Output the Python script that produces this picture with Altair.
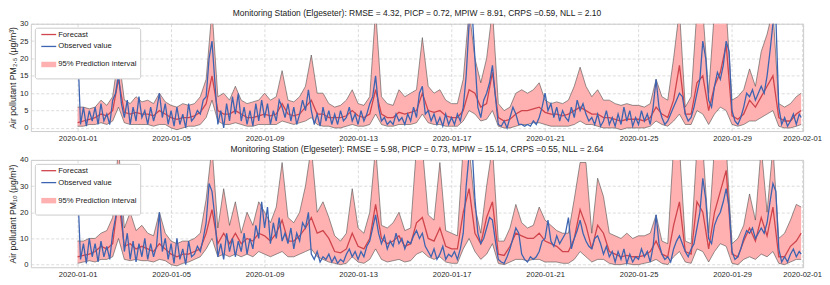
import altair as alt
import pandas as pd

FONT = "Liberation Sans"
RED = "#D0454C"
BLUE = "#3D64B1"
PINK = "#FFB1B1"
EDGE = "#4d4d4d"

SERIES = ["Forecast", "Observed value", "95% Prediction interval"]
TITLE_PM25 = "Monitoring Station (Elgeseter): RMSE = 4.32, PICP = 0.72, MPIW = 8.91, CRPS =0.59, NLL = 2.10"
TITLE_PM10 = "Monitoring Station (Elgeseter): RMSE = 5.98, PICP = 0.73, MPIW = 15.14, CRPS =0.55, NLL = 2.64"
YTITLE_PM25 = "Air pollutant PM₂.₅ (μg/m³)"
YTITLE_PM10 = "Air pollutant PM₁₀ (μg/m³)"
XTICKS = ["2020-01-01", "2020-01-05", "2020-01-09", "2020-01-13", "2020-01-17",
          "2020-01-21", "2020-01-25", "2020-01-29", "2020-02-01"]
YTICKS_PM25 = [0, 5, 10, 15, 20, 25, 30]
YTICKS_PM10 = [0, 10, 20, 30, 40]

# ---- PM2.5, 6-hourly (00, 06, 12, 18 per day, Jan 1 .. Jan 31) + Jan 31 23:00
PM25_UPPER = [
    6, 6, 5.5, 6,  8, 6.5, 9, 21,  8, 7, 9, 7.5,  8, 7, 10, 7.5,  6.5, 6, 7, 6.5,
    7, 9, 14, 34,  9, 10, 8, 12,  8, 7, 7.5, 8,  10, 8, 9, 16.5,  8, 7.5, 9, 12,
    21, 10, 10, 7,  6, 6.5, 8, 11,  7, 6.5, 9, 34,  9, 7, 6.5, 11,  9, 10, 11, 26,
    12, 10, 11, 8,  7, 7, 14, 34,  20, 13, 20, 34,  7, 5, 6, 10,  11, 10, 11, 13,
    8, 7, 7.5, 7,  8, 12, 17.5, 12,  9, 11, 8, 8,  7, 6.5, 7, 6.5,  6.5, 6, 7, 14,
    9, 8, 20, 34,  6, 9, 34, 34,  10, 34, 34, 34,  8, 9, 11, 17,  12, 22, 27, 34,
    7, 6, 7, 9,  10]
PM25_LOWER = [
    0.5, 0.5, 1, 1,  1.5, 1, 2, 6,  1.5, 1, 1, 1,  1, 0.5, 1, 1,  0, -0.5, 0, 0.5,
    0.5, 1, 3, 8,  2, 1, 1, 1.5,  1, 0.5, 0.5, 1,  1, 1, 1, 2,  1.5, 1, 1.5, 2,
    3, 1, 0.5, 0.5,  0, 0, 0.5, 1,  0.5, 0.5, 1, 4,  1, 0.5, 0.5, 1,  1, 1, 1.5, 4,
    1.5, 1, 1, 0.5,  0.5, 0.5, 2, 5,  4, 2, 2.5, 5,  0.5, 0, 0, 0.5,  1, 1, 1.5, 1.5,
    1, 0.5, 0.5, 0.5,  0.5, 1, 2, 1,  1, 0.5, 0, 0,  0, -0.5, 0, 0,  0, 0, 0.5, 2,
    1, 0.5, 2, 4,  1, 1, 5, 4,  1, 4, 6, 5,  1, 0.5, 1, 2,  2, 3, 4, 5,
    0.5, 0, 0, 0.5,  1]
PM25_FCST = [
    1.5, 2, 2.5, 3,  4, 3.5, 5, 14,  4.5, 4, 4.5, 4,  4, 3.5, 5, 4,  3, 2.5, 3, 3,
    3.5, 4.5, 7, 15,  5, 4, 4, 5,  4, 3, 3, 3.5,  4, 3.5, 4, 7,  4, 3.5, 4, 6,
    8, 4, 4, 3,  3, 3, 3.5, 5,  3.5, 3, 4, 11,  4, 3, 3, 4.5,  4, 4.5, 5, 10,
    5, 4.5, 5, 3.5,  3, 3, 5, 11,  10, 6, 7, 16,  3, 2, 2.5, 4,  5, 5, 5.5, 6,
    4.5, 4, 4, 3.5,  4, 5, 6, 5,  4, 4, 3, 3,  2.5, 2, 2.5, 2.5,  2.5, 2, 3, 6,
    4, 3, 8, 18,  4, 4, 13, 15,  5, 12, 16, 24,  3.5, 2.5, 4, 8,  6, 9, 12, 15,
    3, 2, 2, 4,  5]
# ---- PM2.5 observed, 3-hourly (8 per day) + Jan 31 23:00
PM25_OBS = [
    24, 1, 6, 0.5, 5, 2, 6, 1,      7, 2, 4, 1, 8, 10, 15.5, 7,
    3, 8, 1, 6, 2, 9, 3, 5,         1, 6, 2, 5, 10, 3, 7, 1,
    5, 0.5, 6, 1, 4, 0, 7, 2,       3, 5, 4, 8, 9, 20, 25, 13,
    1, 5, 0, 7, 2, 9, 4, 10,        2, 6, 1, 5, 0.5, 7, 2, 8,
    3, 7, 1, 5, 2, 8, 6, 3,         7, 2, 6, 1, 4, 8, 5, 11,
    5, 1, 4, 0.5, 6, 2, 5, 1,       4, 1, 5, 2, 3, 6, 2, 4,
    1, 5, 2, 4, 7, 9, 15, 6,        2, 3, 1, 2, 1, 4, 2, 3,
    1, 4, 2, 6, 3, 10, 12, 4,       5, 2, 4, 1, 3, 0.5, 4, 1,
    3, 1, 4, 2, 6, 15, 30, 34,      20, 6, 3, 8, 10, 13, 18, 9,
    1, 0.5, 2, 0, 3, 6, 4, 1,       1, 0.5, 1, 0.5, 2, 1, 3, 6,
    10, 5, 7, 3, 6, 2, 5, 3,        2, 6, 3, 8, 5, 7, 4, 2,
    3, 1, 4, 0.5, 2, 5, 1, 3,       0.5, 4, 1, 6, 2, 5, 0.5, 3,
    1, 5, 2, 4, 1, 6, 14, 6,        3, 1, 2, 4, 6, 8, 10, 9,
    4, 2, 3, 6, 10, 14, 25, 20,     8, 6, 12, 16, 14, 18, 25, 22,
    5, 2, 1, 3, 6, 10, 9, 11,       8, 10, 12, 10, 15, 22, 30, 32,
    6, 1, 3, 0.5, 2, 4, 1, 4,       3]

# ---- PM10, 6-hourly + Jan 31 23:00
PM10_UPPER = [
    9, 9, 10, 10,  12, 13, 18, 45,  14, 20, 13, 15,  12, 11, 20, 12,  9, 8, 9, 9,
    10, 12, 25, 45,  14, 29, 15, 24,  12, 20, 15, 24,  20, 16, 22, 39,  18, 16, 20, 30,
    45, 20, 24, 18,  11, 9, 12, 29,  14, 12, 20, 45,  15, 14, 16, 20,  13, 14, 45, 45,
    19, 17, 39, 13,  12, 11, 45, 45,  22, 12, 30, 45,  9, 9, 14, 23,  16, 14, 15, 22,
    17, 15, 13, 12,  12, 25, 39, 39,  12, 33, 26, 12,  11, 10, 12, 10,  11, 11, 12, 19,
    9, 8, 45, 45,  9, 8, 45, 45,  12, 45, 45, 45,  8, 10, 15, 27,  17, 45, 20, 45,
    10, 12, 17, 23,  22]
PM10_LOWER = [
    0.5, 1, 1.5, 1,  2, 2, 3, 10,  2, 1.5, 2, 1.5,  1.5, 1, 2, 1.5,  0, -0.5, 0.5, 1,
    2, 3, 6, 10,  3, 4, 3, 4,  3, 4, 3, 5,  4, 3, 4, 5,  3, 3, 4, 5,
    6, 3, 2, 1,  0.5, 0, 0.5, 3,  1, 0.5, 2, 6,  2, 1, 1.5, 2,  1, 1.5, 4, 5,
    3, 2, 3, 1,  0.5, 0.5, 6, 10,  5, 2, 4, 8,  0.5, 0, 1, 2,  2, 1.5, 2, 2,
    1, 1, 1, 0.5,  0.5, 2, 5, 3,  1, 2, 2, 0.5,  0, 0, 0.5, 0,  0, 0.5, 1, 2,
    0.5, 0, 3, 5,  1, 0.5, 6, 5,  1, 5, 8, 7,  0.5, 0, 2, 3,  2, 4, 3, 5,
    0.5, 0, 1, 2,  2]
PM10_FCST = [
    3, 3.5, 4, 5,  7, 6, 8, 25,  7, 8, 6, 7,  6, 5, 8, 6,  4, 3, 4, 4,
    5, 6, 12, 21,  8, 12, 8, 12,  8, 10, 9, 12,  11, 9, 12, 17,  9, 9, 11, 14,
    18, 12, 13, 10,  5, 4.5, 6, 12,  7, 6, 10, 23,  10, 8, 9, 11,  7, 8, 16, 18,
    10, 9, 14, 7,  6, 6, 20, 29,  12, 8, 18, 24,  4, 3.5, 7, 12,  11, 10, 10, 12,
    9, 8, 7, 5,  5, 10, 21, 15,  6, 15, 12, 5,  4, 3, 3.5, 3,  3, 3.5, 5, 9,
    4, 3, 15, 24,  5, 4, 24, 20,  6, 20, 28, 36,  4, 3, 9, 14,  9, 18, 11, 22,
    3, 3, 7, 9,  12]
PM10_OBS = [
    30, 2, 8, 0.5, 10, 3, 8, 1,     9, 3, 7, 2, 12, 18, 30, 20,
    5, 12, 2, 9, 1, 8, 3, 10,       2, 8, 3, 7, 20, 5, 10, 2,
    8, 0.5, 10, 2, 6, 0, 9, 3,      4, 7, 5, 10, 16, 31, 28, 18,
    3, 8, 2, 12, 5, 10, 3, 9,       5, 12, 4, 10, 6, 15, 10, 24,
    14, 22, 8, 16, 10, 18, 9, 12,   8, 14, 6, 12, 9, 16, 14, 20,
    4, 2, 5, 1, 3, 2, 4, 1,         3, 0.5, 2, 1, 4, 6, 3, 5,
    2, 5, 3, 7, 9, 14, 19, 12,      8, 11, 6, 9, 7, 12, 8, 10,
    6, 9, 8, 11, 13, 10, 12, 7,     5, 3, 6, 2, 4, 7, 2, 4,
    3, 5, 2, 6, 12, 30, 42, 45,     25, 12, 8, 10, 14, 18, 17, 9,
    2, 1, 0.5, 3, 6, 10, 14, 12,    4, 2, 1, 3, 2, 3, 5, 9,
    10, 17, 9, 7, 11, 8, 10, 12,    18, 6, 10, 13, 17, 12, 9, 7,
    6, 10, 11, 8, 4, 7, 3, 5,       1, 5, 2, 6, 0.5, 4, 1, 3,
    2, 6, 3, 5, 1, 7, 19, 8,        4, 2, 3, 1, 6, 9, 11, 8,
    5, 3, 6, 8, 14, 20, 33, 25,     10, 8, 15, 18, 20, 24, 29, 22,
    5, 2, 3, 6, 10, 13, 12, 14,     10, 12, 14, 12, 16, 24, 31, 28,
    6, 1, 3, 1, 4, 6, 3, 5,         4]

END = "2020-01-31T23:00:00"
T6 = [t.strftime("%Y-%m-%dT%H:%M:%S") for t in pd.date_range("2020-01-01", periods=124, freq="6h")] + [END]
T3 = [t.strftime("%Y-%m-%dT%H:%M:%S") for t in pd.date_range("2020-01-01", periods=248, freq="3h")] + [END]

for arr in (PM25_UPPER, PM25_LOWER, PM25_FCST, PM10_UPPER, PM10_LOWER, PM10_FCST):
    assert len(arr) == len(T6), len(arr)
for arr in (PM25_OBS, PM10_OBS):
    assert len(arr) == len(T3), len(arr)


def dt(s):
    y, m, d = (int(p) for p in s.split("-"))
    return alt.DateTime(year=y, month=m, date=d)


XSCALE = alt.Scale(domain=[alt.DateTime(year=2019, month=12, date=30),
                           alt.DateTime(year=2020, month=2, date=1, hours=1)])
XAXIS = alt.Axis(title=None, values=[dt(s) for s in XTICKS], format="%Y-%m-%d",
                 labelAngle=0, labelFlush=False, labelOverlap=False)

LEGEND = alt.Legend(
    title=None, orient="top-left", offset=4, padding=3, rowPadding=3,
    strokeColor="#cccccc", fillColor="white", cornerRadius=2,
    labelFont=FONT, labelFontSize=7.7, labelColor="#1a1a1a", labelOffset=4.5,
    symbolType="M-3.75,0H3.75", symbolSize=16, symbolOffset=6,
)
CSCALE = alt.Scale(domain=SERIES, range=[RED, BLUE, PINK])
WSCALE = alt.Scale(type="ordinal", domain=SERIES, range=[1.3, 1.3, 5.5])


def panel(title, ytitle, yticks, ydomain, upper, lower, fcst, obs):
    band = pd.DataFrame({"t": T6, "upper": upper, "lower": lower})
    fc = pd.DataFrame({"t": T6, "v": fcst, "series": SERIES[0]})
    ob = pd.DataFrame({"t": T3, "v": obs, "series": SERIES[1]})
    yscale = alt.Scale(domain=ydomain, nice=False, zero=False)
    yaxis = alt.Axis(title=ytitle, values=yticks)
    x = alt.X("t:T", scale=XSCALE, axis=XAXIS)
    color = alt.Color("series:N", scale=CSCALE, legend=LEGEND)
    width = alt.StrokeWidth("series:N", scale=WSCALE, legend=LEGEND)

    area = alt.Chart(band).mark_area(clip=True, opacity=1, color=PINK).encode(
        x=x, y=alt.Y("lower:Q", scale=yscale, axis=yaxis), y2="upper:Q")
    edge_u = alt.Chart(band).mark_line(clip=True, color=EDGE, strokeWidth=0.6).encode(
        x=x, y=alt.Y("upper:Q", scale=yscale, axis=yaxis))
    edge_l = alt.Chart(band).mark_line(clip=True, color=EDGE, strokeWidth=0.6).encode(
        x=x, y=alt.Y("lower:Q", scale=yscale, axis=yaxis))
    l_fc = alt.Chart(fc).mark_line(clip=True).encode(
        x=x, y=alt.Y("v:Q", scale=yscale, axis=yaxis), color=color, strokeWidth=width)
    l_ob = alt.Chart(ob).mark_line(clip=True).encode(
        x=x, y=alt.Y("v:Q", scale=yscale, axis=yaxis), color=color, strokeWidth=width)

    return alt.layer(area, edge_u, edge_l, l_fc, l_ob).properties(
        width=777, height=108,
        title=alt.TitleParams(title, font=FONT, fontSize=8.5, fontWeight="normal",
                              color="#1a1a1a", offset=2, anchor="middle"),
    )


top = panel(TITLE_PM25, YTITLE_PM25, YTICKS_PM25, [-0.9, 30],
            PM25_UPPER, PM25_LOWER, PM25_FCST, PM25_OBS)
bottom = panel(TITLE_PM10, YTITLE_PM10, YTICKS_PM10, [-1, 40],
               PM10_UPPER, PM10_LOWER, PM10_FCST, PM10_OBS)

chart = alt.vconcat(top, bottom, spacing=2).resolve_scale(
    color="independent", strokeWidth="independent", x="independent", y="independent"
).resolve_legend(color="independent", strokeWidth="independent").configure_view(
    stroke="#cccccc", strokeWidth=1
).configure_axis(
    labelFont=FONT, labelFontSize=7.6, labelColor="#262626",
    titleFont=FONT, titleFontSize=8.8, titleColor="#1a1a1a", titleFontWeight="normal",
    domain=False, ticks=False, labelPadding=3, titlePadding=2,
    gridColor="#cccccc", gridDash=[3, 2], gridWidth=0.7,
).properties(padding=0, background="white")

chart.save("out.html", embed_options={"renderer": "svg", "actions": False})
